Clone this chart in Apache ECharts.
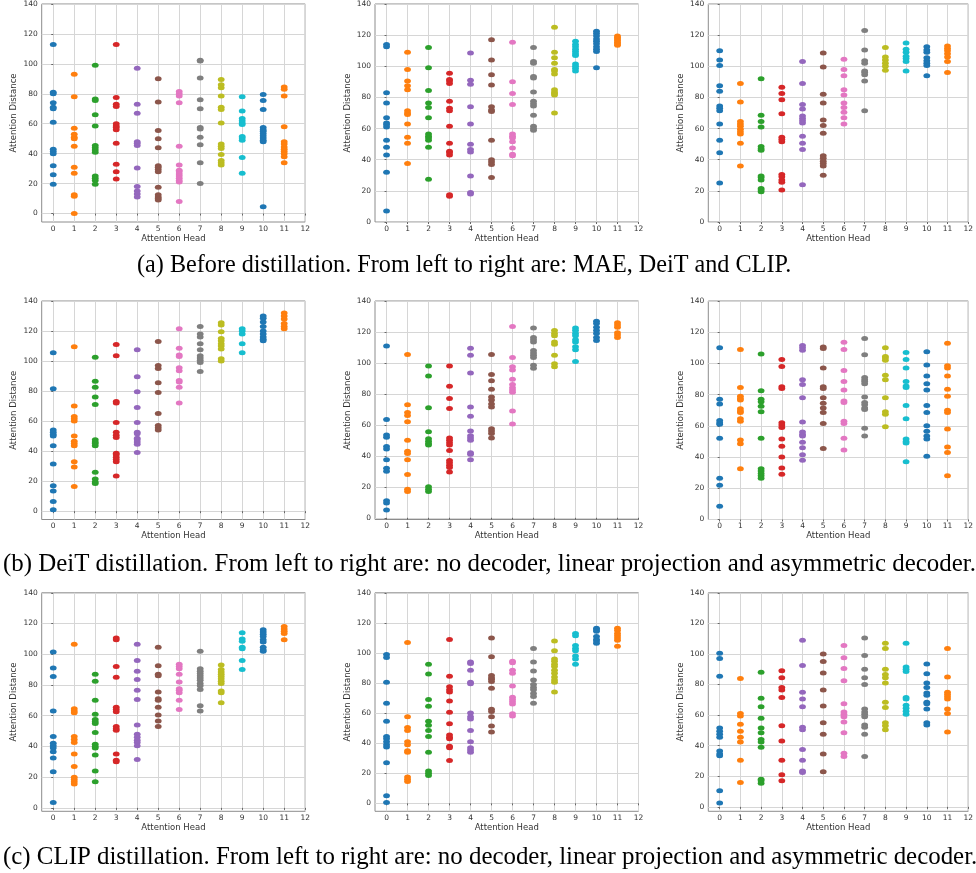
<!DOCTYPE html>
<html><head><meta charset="utf-8">
<script src="https://cdn.jsdelivr.net/npm/echarts@6/dist/echarts.min.js"></script>
<style>html,body{margin:0;padding:0;background:#fff}#c{width:976px;height:873px}</style>
</head><body><div id="c"></div>
<script>
const headTicks = [0,1,2,3,4,5,6,7,8,9,10,11,12];
const distTicks = [0,20,40,60,80,100,120,140];
const headColors = ['#1f77b4','#ff7f0e','#2ca02c','#d62728','#9467bd','#8c564b','#e377c2','#7f7f7f','#bcbd22','#17becf','#1f77b4','#ff7f0e'];
const xName = 'Attention Head';
const yName = 'Attention Distance';
const captionA = '(a) Before distillation. From left to right are: MAE, DeiT and CLIP.';
const captionB = '(b) DeiT distillation. From left to right are: no decoder, linear projection and asymmetric decoder.';
const captionC = '(c) CLIP distillation. From left to right are: no decoder, linear projection and asymmetric decoder.';

// (a) before distillation
const maeBefore = [
 [113,81,80,74,71,70,61,43,41.5,40,32,26,19.5],
 [93,78,57,53,51,50,45,31,27,12.5,11.5,0],
 [99,76.5,75.5,66,58.5,45.5,44,42.5,41,25,23.5,22,19.5],
 [113,77.5,73,71.5,60,58.5,57.5,56,47,33,28,23],
 [97,73,67,48,47,45.5,30.5,18,15,13,11],
 [90,74.5,55.5,50,44,32,31,29.5,28,17.5,12.5,11,10,9],
 [81.5,80,78.5,74,45,32.5,29,28,26.5,25,23.5,22,21,8],
 [102.5,102,90.5,76,70,57.5,56.5,51,46,34,20],
 [89.5,86,84,78.5,71,69.5,60.5,46.5,45,43.5,39.5,35.5,34,32.5],
 [78,68.5,63.5,62,60.5,59.5,51.5,50.5,49,37.5,27],
 [79.5,75.5,69.5,57.5,56,55,53.5,52,50.5,49,48,4.5],
 [84.5,83,78.5,58,48,46.5,44.5,43,41.5,40,38,34]
];
const deitBefore = [
 [114,112.5,83,76.5,67,63.5,62.5,61,52.5,48,43,32,7],
 [109,98,90.5,87.5,85,71.5,70,69,63,54.5,50.5,37.5],
 [112,99,84.5,76.5,73.5,67,56.5,55,54,52.5,48,27.5],
 [95.5,91.5,90.5,89,77.5,73,71.5,61.5,50.5,45.5,44.5,43,17.5,16.5],
 [108.5,91,88.5,74,63,50,46.5,45,29.5,19,18],
 [117,104,94.5,88,74,72,71,52.5,40,38.5,37,28.5],
 [115.5,90,82.5,75.5,56.5,55,54,51.5,47.5,43.5,42.5],
 [112,103,102,93.5,92.5,83.5,77.5,76,74.5,68.5,61.5,60,59],
 [125,109,105.5,102,98,97,95,85,83.5,82.5,81.5,70],
 [116,114,112.5,111,109.5,108,107,101.5,100,98.5,97],
 [122.5,121,119.5,117.5,116,114.5,112.5,111,109.5,99],
 [119.5,118.5,117.5,116.5,115.5,114.5,113.5]
];
const clipBefore = [
 [110,104,100.5,87.5,84,74.5,73,71.5,63,52.5,44.5,25],
 [89,77,64.5,63,61.5,59.5,58,56.5,50.5,36],
 [92,68.5,64.5,61,48.5,47,46,29.5,28.5,27,21.5,20.5,19.5],
 [86.5,82.5,78.5,69.5,54.5,53,51.5,30.5,29,27,25.5,20.5],
 [103,89,75.5,72.5,68,66.5,65,63.5,55,50.5,46.5,24],
 [108.5,99.5,82,76.5,65.5,62,57,42.5,41,39,37.5,36,30],
 [104.5,98,94,85,81.5,76.5,73.5,70.5,67,63],
 [123,110.5,103.5,102,97,96,94.5,90.5,71.5],
 [112,106,104,102,100,97.5],
 [115,111,109,106.5,105,103,97],
 [112.5,110.5,109,105.5,103.5,102,100.5,94],
 [113,111.5,110,108,106,103,96]
];
// (b) DeiT distillation
const deitNoDecoder = [
 [105.5,81.5,54,52.5,51,50,43.5,31.5,17,13.5,6.5,1],
 [109.5,70,63,61.5,60,50,46.5,45,43.5,33,29.5,16.5],
 [102.5,86.5,82.5,76,71,47.5,46,45,43.5,26,21.5,19.5,18.5],
 [111,103.5,73,72,59,52.5,50.5,49,38.5,37.5,36,34.5,33,23.5],
 [107.5,89.5,79.5,69,59,52.5,51.5,48.5,47.5,46,44.5,39],
 [113,97,95,85.5,79,65,57,55.5,54],
 [121.5,108.5,104,103,95.5,93.5,87,86,82.5,72],
 [123,118,116,111.5,107.5,103.5,102,100.5,99,93],
 [125.5,124,119.5,115,113.5,111.5,110,108,101.5,100],
 [121.5,120,118,111.5,105.5],
 [130,128.5,126,123,120,118,116,114.5,113.5],
 [132,130,128,125,123,121.5]
];
const deitLinearProj = [
 [111,63.5,53.5,52,46,44.5,37.5,32,30,11,9.5,5],
 [105.5,73,68,66,62,50,43,41.5,37.5,28,18.5,17],
 [98,91.5,71,55.5,51,49.5,48,47,20,18.5,17],
 [98,85,77,70.5,51.5,50,48.5,47,43.5,37,35.5,34,32.5,29.5],
 [109.5,105,93.5,71.5,65.5,56,53,51.5,50,42,41,37.5],
 [105.5,92.5,88.5,83,78,76,73.5,71.5,57.5,56,54.5,51.5],
 [123.5,103.5,97.5,95.5,89.5,86,84,82.5,81,69,60.5],
 [122.5,116.5,115,113.5,108,106.5,105,103.5,98.5,96.5],
 [121,119,117.5,113.5,112,105,99.5,97.5],
 [122.5,121,119,117.5,115,113.5,110.5,108.5,101],
 [127,125.5,123,121,119,116.5,114.5],
 [126,124.5,123,119.5,118,116.5]
];
const deitAsymDecoder = [
 [110,77,74,63.5,62,61,52,26.5,22,8.5],
 [109,84.5,79,77.5,76.5,71,69.5,68.5,64.5,63,51,48.5,32.5],
 [106,82.5,77,75.5,72.5,69,52,32.5,31,29.5,28,26.5],
 [102.5,98,85,84,62,60.5,59,51.5,47,40,33,29],
 [111.5,110,108.5,89.5,86.5,78,62.5,56,54.5,53.5,49.5,46,41.5,38],
 [110.5,109.5,97,85,84,78,74.5,71.5,68.5,61.5,45.5],
 [113.5,109,95.5,88.5,83,76,75,63,61.5,52,44.5],
 [116,105.5,91,89.5,88.5,87,78.5,75,73.5,71.5,70.5,58.5,53.5],
 [110,104.5,103.5,102,92.5,89.5,78,69,67.5,59.5],
 [107,102.5,97,88.5,85.5,84.5,73,64.5,51.5,50,49,37],
 [107.5,99,92,87,83,73,68.5,60,56.5,53.5,51.5,40.5],
 [113,98.5,97,92,83.5,79,70,68.5,58,46.5,43,28]
];
// (c) CLIP distillation
const clipNoDecoder = [
 [101.5,91,85.5,63,46.5,42,40.5,39,36.5,32.5,23.5,3.5],
 [106.5,64.5,63,62,46.5,44.5,42.5,35,27,20,18.5,17,15.5],
 [87,82.5,70,61,57.5,56,55,49,41.5,40,39,34.5,24,17],
 [110.5,109.5,92,85,65.5,64,62.5,53,51.5,50.5,35,31,30],
 [106.5,96,89,83.5,76.5,70.5,54,48,46,44,42.5,40.5,31.5],
 [104.5,92.5,87,86,75.5,71,70,65.5,60.5,56.5,53],
 [93.5,92,90.5,87,82,77.5,76.5,75,70,64],
 [102,90.5,89,87.5,86,84.5,83,81,79.5,77,66.5,63],
 [93,90,88.5,87,85.5,84,82.5,81,76,75,68.5],
 [114,110,108.5,104.5,103.5,96,90],
 [116,114.5,113,111.5,109.5,108,104.5,103,102],
 [118,116.5,115,113.5,109.5]
];
const clipLinearProj = [
 [99,97,80.5,66.5,54.5,44.5,43,41,39,37.5,27,5,0.5],
 [107,57.5,50.5,48.5,41,39,35,34,17.5,16,14.5],
 [92.5,86,69,64.5,54.5,52,48.5,44.5,34,21.5,20,18.5],
 [109,84.5,77.5,75.5,74,68,60.5,53,45.5,44,43,38,37,28.5],
 [94,93,88.5,80.5,79.5,60,57.5,56,48.5,41,37,35.5,34],
 [110,97.5,85,83.5,82.5,81,76.5,62.5,61,57.5,51.5,47.5],
 [94.5,93.5,88.5,86.5,78,70.5,69,67.5,66,59.5,58],
 [103,94,88,82,79,77,75.5,73,71,66.5],
 [108,101.5,96,94.5,92.5,91,88.5,86.5,84,82,80.5,74],
 [113,111.5,105,103,101.5,98,96,92.5],
 [116.5,115.5,114.5,111,109,108,106.5],
 [116.5,115,113,111.5,110,108.5,104.5]
];
const clipAsymDecoder = [
 [100.5,97,85.5,51.5,49.5,47.5,45.5,36.5,34.5,33.5,10.5,2.5],
 [84,61,59.5,54,49.5,45.5,42.5,30.5,16],
 [88,71,65.5,58,51.5,48.5,44,42.5,39,18,17,15.5],
 [89,84.5,78,76.5,71.5,53,43,30.5,21,17],
 [109,92.5,75,70.5,65.5,52,50.5,37.5,30.5,23.5,22.5],
 [100,95,87.5,76.5,66,55,47.5,34.5,23],
 [105.5,97.5,90.5,82.5,67.5,62,60.5,59,55.5,48.5,35,33],
 [110.5,99,90,84.5,80,64,62,60.5,59,53.5,52,47.5,33],
 [107,103.5,90,86.5,84.5,81,68.5,65,55,53,50.5],
 [107,91.5,90,88.5,71.5,70.5,66.5,64.5,62.5,60.5],
 [93.5,87,81,78,74.5,73,68.5,67.5,64,55,53.5],
 [103.5,85,75,73.5,72,70.5,64,61,49]
];

const panels = [maeBefore, deitBefore, clipBefore, deitNoDecoder, deitLinearProj, deitAsymDecoder, clipNoDecoder, clipLinearProj, clipAsymDecoder];

const colLeft = [41.7, 375, 708.3];
const rowTop = [3.5, 301, 592.8];
const W = 263.5, H = 218.5;
const tickFont = "'DejaVu Sans', sans-serif";

function toPoints(p) {
  const out = [];
  p.forEach((vals, h) => vals.forEach(v => out.push([h, v])));
  return out;
}
function yMin(p) {
  const all = [].concat(...p);
  const lo = Math.min(...all), hi = Math.max(...all);
  return Math.min(0, lo - 0.05 * (hi - lo));
}

const grids = [], xAxes = [], yAxes = [], series = [];
panels.forEach((p, i) => {
  const c = i % 3, r = Math.floor(i / 3);
  grids.push({left: colLeft[c], top: rowTop[r], width: W, height: H, show: true, borderColor: '#8c8c8c', borderWidth: 1, backgroundColor: 'transparent'});
  xAxes.push({
    type: 'value', gridIndex: i, min: -0.55, max: 12,
    name: xName, nameLocation: 'middle', nameGap: 10,
    nameTextStyle: {fontFamily: tickFont, fontSize: 8.5, color: '#333'},
    axisLine: {show: false},
    axisTick: {show: true, length: 2, customValues: headTicks, lineStyle: {color: '#666'}},
    axisLabel: {customValues: headTicks, margin: 3, fontFamily: tickFont, fontSize: 7.5, color: '#333'},
    splitLine: {show: true, lineStyle: {color: '#d6d6d6', width: 1}}
  });
  yAxes.push({
    type: 'value', gridIndex: i, min: yMin(p), max: 140,
    name: yName, nameLocation: 'middle', nameGap: 23, nameRotate: 90,
    nameTextStyle: {fontFamily: tickFont, fontSize: 8.5, color: '#333'},
    axisLine: {show: false},
    axisTick: {show: true, length: 2, customValues: distTicks, lineStyle: {color: '#666'}},
    axisLabel: {customValues: distTicks, margin: 4, fontFamily: tickFont, fontSize: 7.5, color: '#333'},
    splitLine: {show: true, lineStyle: {color: '#d6d6d6', width: 1}}
  });
  series.push({
    type: 'scatter', xAxisIndex: i, yAxisIndex: i,
    data: toPoints(p), symbol: 'circle', symbolSize: [6.8, 5],
    itemStyle: {color: (d) => headColors[d.data[0]], opacity: 1},
    emphasis: {disabled: true}
  });
});

const serif = "'Liberation Serif', 'Times New Roman', serif";
const chart = echarts.init(document.getElementById('c'), null, {renderer: 'canvas'});
chart.setOption({
  animation: false,
  backgroundColor: '#fff',
  grid: grids, xAxis: xAxes, yAxis: yAxes, series: series,
  graphic: [
    {type: 'text', left: 137, top: 253.5, style: {text: captionA, fontFamily: serif, fontSize: 24.2, fill: '#000'}},
    {type: 'text', left: 3, top: 551.5, style: {text: captionB, fontFamily: serif, fontSize: 24.9, fill: '#000'}},
    {type: 'text', left: 3, top: 845, style: {text: captionC, fontFamily: serif, fontSize: 24.9, fill: '#000'}}
  ]
});
</script></body></html>
